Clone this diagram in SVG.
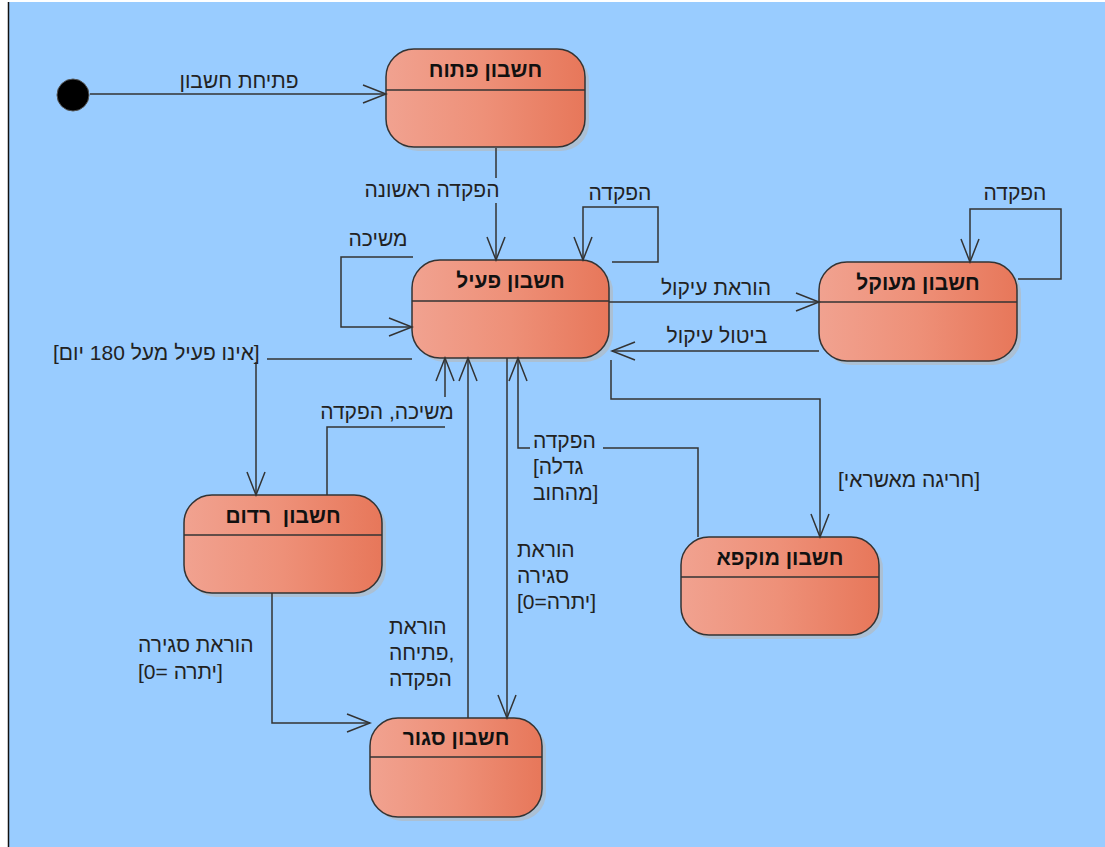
<svg xmlns="http://www.w3.org/2000/svg" width="1105" height="847" viewBox="0 0 1105 847">
<style>
.node rect.body{fill:url(#ng);stroke:#333;stroke-width:1.5}
.node rect.shadow{fill:#b8b8b8;opacity:0.6}
.node line{stroke:#333;stroke-width:1.5}
.title{font-family:"Liberation Sans","DejaVu Sans",sans-serif;font-size:21px;font-weight:bold;fill:#111;text-anchor:middle;white-space:pre}
.lbl{font-family:"Liberation Sans","DejaVu Sans",sans-serif;font-size:21px;fill:#222}
.mid{text-anchor:middle}
.conn path{fill:none;stroke:#333;stroke-width:1.5;marker-end:url(#arr)}
</style>
<defs>
<linearGradient id="ng" x1="0" y1="0" x2="1" y2="0">
<stop offset="0" stop-color="#F1A290"/>
<stop offset="0.5" stop-color="#EE9078"/>
<stop offset="1" stop-color="#E7775A"/>
</linearGradient>
<marker id="arr" markerUnits="userSpaceOnUse" viewBox="-26 -12 28 24" markerWidth="28" markerHeight="24" refX="0" refY="0" orient="auto">
<path d="M-23,-9 L0,0 L-23,9" fill="none" stroke="#333" stroke-width="1.5"/>
</marker>
</defs>
<rect x="0" y="0" width="1105" height="847" fill="#fff"/>
<rect x="8" y="2" width="1097" height="845" fill="#99CCFF"/>
<line x1="8.5" y1="2" x2="8.5" y2="847" stroke="#111" stroke-width="1.5"/>

<g id="initial">
<circle cx="73" cy="95" r="16" fill="#000" stroke="#555" stroke-width="1"/>
</g>

<g id="open" class="node">
<rect class="shadow" x="390" y="53" width="199" height="98" rx="28"/>
<rect class="body" x="386" y="49" width="199" height="98" rx="28"/>
<line x1="386" y1="90" x2="585" y2="90"/>
<text class="title" x="485.5" y="77">חשבון פתוח</text>
</g>

<g id="active" class="node">
<rect class="shadow" x="416" y="264" width="197" height="98" rx="28"/>
<rect class="body" x="412" y="260" width="197" height="98" rx="28"/>
<line x1="412" y1="301" x2="609" y2="301"/>
<text class="title" x="510.5" y="288">חשבון פעיל</text>
</g>

<g id="seized" class="node">
<rect class="shadow" x="823" y="266" width="198" height="99" rx="28"/>
<rect class="body" x="819" y="262" width="198" height="99" rx="28"/>
<line x1="819" y1="302" x2="1017" y2="302"/>
<text class="title" x="918" y="290">חשבון מעוקל</text>
</g>

<g id="dormant" class="node">
<rect class="shadow" x="188" y="499" width="198" height="98" rx="28"/>
<rect class="body" x="184" y="495" width="198" height="98" rx="28"/>
<line x1="184" y1="535" x2="382" y2="535"/>
<text class="title" x="283" y="523">חשבון  רדום</text>
</g>

<g id="frozen" class="node">
<rect class="shadow" x="685" y="541" width="198" height="98" rx="28"/>
<rect class="body" x="681" y="537" width="198" height="98" rx="28"/>
<line x1="681" y1="577" x2="879" y2="577"/>
<text class="title" x="780" y="565">חשבון מוקפא</text>
</g>

<g id="closed" class="node">
<rect class="shadow" x="374" y="722" width="172" height="99" rx="28"/>
<rect class="body" x="370" y="718" width="172" height="99" rx="28"/>
<line x1="370" y1="757" x2="542" y2="757"/>
<text class="title" x="456" y="745">חשבון סגור</text>
</g>

<g id="connectors" class="conn">
<path d="M90,94 H386"/>
<path d="M496,148 V178 M496,203 V260"/>
<path d="M612,262 H658 V207 H583 V260"/>
<path d="M413,257 H341 V327 H412"/>
<path d="M609,302 H819"/>
<path d="M819,351 H612"/>
<path d="M1018,279 H1061 V209 H970 V262"/>
<path d="M412,359 H267 M256,362 V495"/>
<path d="M327,495 V427 H445 M445,397 V358"/>
<path d="M698,537 V448 H603 M530,448 H518 V358"/>
<path d="M611,360 V399 H820 V537"/>
<path d="M507,358 V718"/>
<path d="M468,718 V358"/>
<path d="M272,593 V723 H370"/>
</g>

<g id="labels">
<text class="lbl mid" x="239" y="88">פתיחת חשבון</text>
<text class="lbl mid" x="432" y="197">הפקדה ראשונה</text>
<text class="lbl mid" x="620" y="200">הפקדה</text>
<text class="lbl mid" x="378" y="246">משיכה</text>
<text class="lbl mid" x="716" y="295">הוראת עיקול</text>
<text class="lbl mid" x="717" y="343">ביטול עיקול</text>
<text class="lbl mid" x="1015" y="200">הפקדה</text>
<text class="lbl" x="53" y="360">[אינו פעיל מעל 180 יום]</text>
<text class="lbl mid" x="387" y="419">משיכה, הפקדה</text>
<text class="lbl" x="533" y="448">הפקדה<tspan x="533" y="474">[גדלה</tspan><tspan x="533" y="500">מהחוב]</tspan></text>
<text class="lbl" x="838" y="487">[חריגה מאשראי]</text>
<text class="lbl" x="517" y="557">הוראת<tspan x="517" y="583">סגירה</tspan><tspan x="517" y="609">[יתרה=0]</tspan></text>
<text class="lbl" x="389" y="634">הוראת<tspan x="389" y="660">פתיחה,</tspan><tspan x="389" y="686">הפקדה</tspan></text>
<text class="lbl" x="138" y="652">הוראת סגירה<tspan x="138" y="679">[יתרה =0]</tspan></text>
</g>
</svg>
